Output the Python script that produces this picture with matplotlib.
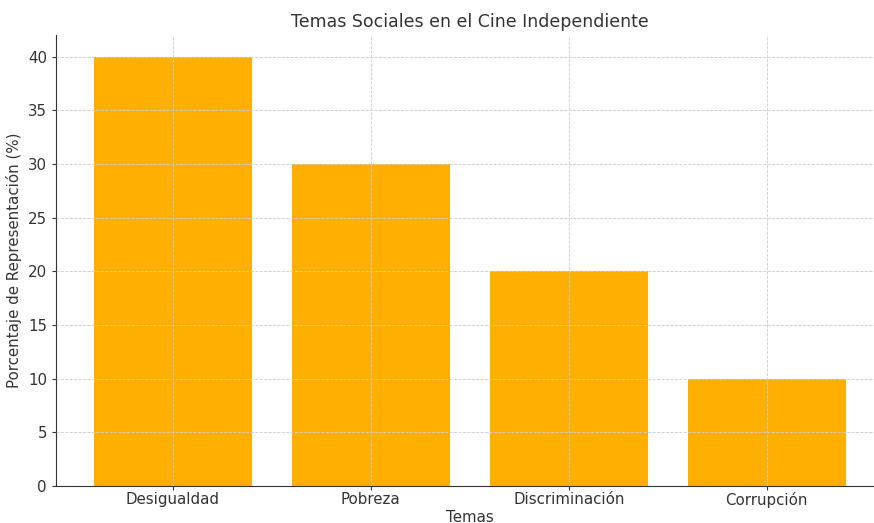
import matplotlib.pyplot as plt

plt.rcParams['font.family'] = ['DejaVu Sans']

temas = ['Desigualdad', 'Pobreza', 'Discriminación', 'Corrupción']
porcentajes = [40, 30, 20, 10]

fig = plt.figure(figsize=(8.74, 5.23), dpi=100)
ax = fig.add_axes([0.064, 0.0707, 0.947, 0.862])

ax.bar(temas, porcentajes, color='#FFAF00', width=0.8, zorder=2)
ax.grid(True, linestyle='--', color='#cccccc', linewidth=0.6, zorder=3)
ax.set_axisbelow(False)

ax.set_title('Temas Sociales en el Cine Independiente', fontsize=12.5, color='#333333')
ax.set_xlabel('Temas', fontsize=10.8, color='#333333', labelpad=1)
ax.set_ylabel('Porcentaje de Representación (%)', fontsize=10.8, color='#333333', labelpad=4)
ax.tick_params(labelsize=10.8, colors='#333333', length=3)
ax.tick_params(axis='x', pad=1.5)
for s in ['top', 'right']:
    ax.spines[s].set_visible(False)
for s in ['left', 'bottom']:
    ax.spines[s].set_color('#333333')

fig.savefig('out.png', dpi=100)
